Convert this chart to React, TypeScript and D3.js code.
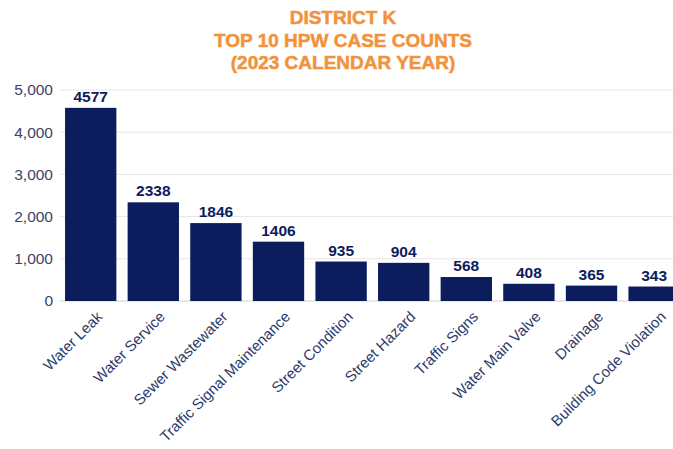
import React, { useEffect, useRef } from 'react';
import * as d3 from 'd3';

const categories = [
    'Water Leak', 'Water Service', 'Sewer Wastewater', 'Traffic Signal Maintenance',
    'Street Condition', 'Street Hazard', 'Traffic Signs', 'Water Main Valve',
    'Drainage', 'Building Code Violation'
];
const caseCounts = [4577, 2338, 1846, 1406, 935, 904, 568, 408, 365, 343];
const yTicks = [0, 1000, 2000, 3000, 4000, 5000];
const titleLines = ['DISTRICT K', 'TOP 10 HPW CASE COUNTS', '(2023 CALENDAR YEAR)'];

const App: React.FC = () => {
    const svgRef = useRef<SVGSVGElement>(null);

    useEffect(() => {
        if (!svgRef.current) return;
        const svg = d3.select(svgRef.current);
        svg.selectAll('*').remove();

        const width = 673;
        const baseY = 301;
        const topY = 90;
        const font = 'Liberation Sans, Arial, sans-serif';

        const x = d3.scaleBand<string>()
            .domain(categories)
            .range([59.4, 685.4])
            .paddingInner(0.18)
            .paddingOuter(0.09);

        const y = d3.scaleLinear()
            .domain([0, 5000])
            .range([baseY, topY]);

        // Title
        titleLines.forEach((line, i) => {
            svg.append('text')
                .attr('x', 343)
                .attr('y', 24 + i * 22.5)
                .attr('text-anchor', 'middle')
                .attr('font-family', font)
                .attr('font-weight', 'bold')
                .attr('font-size', '19px')
                .attr('fill', '#F2923C')
                .attr('stroke', '#F2923C')
                .attr('stroke-width', 0.5)
                .text(line);
        });

        // Grid lines + y ticks
        yTicks.forEach(t => {
            svg.append('line')
                .attr('x1', 60)
                .attr('x2', width)
                .attr('y1', y(t))
                .attr('y2', y(t))
                .attr('stroke', t === 0 ? '#d0d0d0' : '#e6e6e6')
                .attr('stroke-width', 1);

            svg.append('text')
                .attr('x', 53)
                .attr('y', y(t))
                .attr('dy', '0.35em')
                .attr('text-anchor', 'end')
                .attr('font-family', font)
                .attr('font-size', '15.5px')
                .attr('fill', '#3b4466')
                .text(d3.format(',')(t));
        });

        // Bars
        categories.forEach((c, i) => {
            const v = caseCounts[i];
            const bx = x(c) as number;
            svg.append('rect')
                .attr('x', bx)
                .attr('y', y(v))
                .attr('width', x.bandwidth())
                .attr('height', baseY - y(v))
                .attr('fill', '#0b1d5c');

            svg.append('text')
                .attr('x', bx + x.bandwidth() / 2)
                .attr('y', y(v) - 6)
                .attr('text-anchor', 'middle')
                .attr('font-family', font)
                .attr('font-weight', 'bold')
                .attr('font-size', '15.5px')
                .attr('fill', '#0b1d5c')
                .text(String(v));

            const lx = bx + x.bandwidth() / 2 + 9;
            const ly = baseY + 13;
            svg.append('text')
                .attr('transform', `translate(${lx}, ${ly}) rotate(-45)`)
                .attr('text-anchor', 'end')
                .attr('dy', '0.35em')
                .attr('font-family', font)
                .attr('font-size', '15px')
                .attr('fill', '#2c3a6b')
                .text(c);
        });
    }, []);

    return (
        <svg
            ref={svgRef}
            width={673}
            height={449}
            style={{ position: 'absolute', left: 0, top: 0, background: '#ffffff' }}
        ></svg>
    );
};

export default App;
